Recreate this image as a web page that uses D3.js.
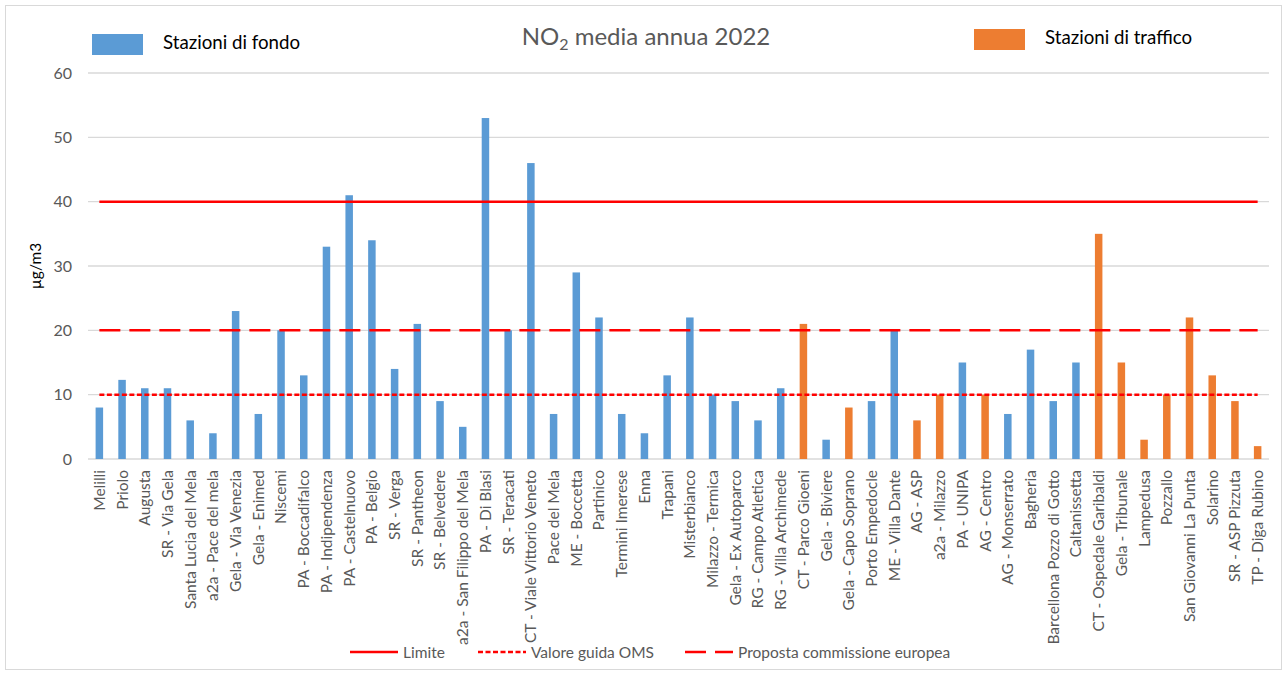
<!DOCTYPE html>
<meta charset="utf-8">
<style>
  body { margin: 0; background: #fff; }
  text { font-family: Lato, sans-serif; }
</style>
<body id="chart"></body>
<script src="https://cdn.jsdelivr.net/npm/d3@7"></script>
<script>
// stations, annual NO2 mean (µg/m3), station type
var stations = ["Melilli", "Priolo", "Augusta", "SR - Via Gela", "Santa Lucia del Mela",
  "a2a - Pace del mela", "Gela - Via Venezia", "Gela - Enimed", "Niscemi", "PA - Boccadifalco",
  "PA - Indipendenza", "PA - Castelnuovo", "PA - Belgio", "SR - Verga", "SR - Pantheon",
  "SR - Belvedere", "a2a - San Filippo del Mela", "PA - Di Blasi", "SR - Teracati",
  "CT - Viale Vittorio Veneto", "Pace del Mela", "ME - Boccetta", "Partinico", "Termini Imerese",
  "Enna", "Trapani", "Misterbianco", "Milazzo - Termica", "Gela - Ex Autoparco",
  "RG - Campo Atletica", "RG - Villa Archimede", "CT - Parco Gioeni", "Gela - Biviere",
  "Gela - Capo Soprano", "Porto Empedocle", "ME - Villa Dante", "AG - ASP", "a2a - Milazzo",
  "PA - UNIPA", "AG - Centro", "AG - Monserrato", "Bagheria", "Barcellona Pozzo di Gotto",
  "Caltanissetta", "CT - Ospedale Garibaldi", "Gela - Tribunale", "Lampedusa", "Pozzallo",
  "San Giovanni La Punta", "Solarino", "SR - ASP Pizzuta", "TP - Diga Rubino"];

var values = [8, 12.3, 11, 11, 6, 4, 23, 7, 20, 13,
  33, 41, 34, 14, 21, 9, 5, 53, 20, 46,
  7, 29, 22, 7, 4, 13, 22, 10, 9, 6,
  11, 21, 3, 8, 9, 20, 6, 10, 15, 10,
  7, 17, 9, 15, 35, 15, 3, 10, 22, 13,
  9, 2];

// F = stazione di fondo, T = stazione di traffico
var types = ["F","F","F","F","F","F","F","F","F","F",
  "F","F","F","F","F","F","F","F","F","F",
  "F","F","F","F","F","F","F","F","F","F",
  "F","T","F","T","F","F","T","T","F","T",
  "F","F","F","F","T","T","T","T","T","T",
  "T","T"];

var seriesNames = ["Stazioni di fondo", "Stazioni di traffico"];
var seriesColors = ["#5B9BD5", "#ED7D31"];

var thresholdNames = ["Limite", "Valore guida OMS", "Proposta commissione europea"];
var thresholdValues = [40, 10, 20];
var thresholdDash = [null, "5,2.5", "21,9"];

var yTicks = [0, 10, 20, 30, 40, 50, 60];

var width = 1287, height = 675;
var margin = {left: 88, right: 18, top: 73, bottom: 216};

var svg = d3.select("#chart").append("svg")
  .attr("width", width)
  .attr("height", height);

// chart border
svg.append("rect")
  .attr("x", 5.5).attr("y", 5.5)
  .attr("width", width - 11).attr("height", height - 11)
  .attr("fill", "#fff").attr("stroke", "#d9d9d9").attr("stroke-width", 1);

var x = d3.scaleBand()
  .domain(stations)
  .range([margin.left, width - margin.right]);

var y = d3.scaleLinear()
  .domain([0, 60])
  .range([height - margin.bottom, margin.top]);

//gridlines
svg.append("g")
  .selectAll("line")
  .data(yTicks)
  .enter().append("line")
  .attr("x1", margin.left)
  .attr("x2", width - margin.right)
  .attr("y1", function(d) { return y(d); })
  .attr("y2", function(d) { return y(d); })
  .attr("stroke", "#d9d9d9")
  .attr("stroke-width", 1.3);

//y axis labels
var yAxis = svg.append("g")
  .attr("transform", "translate(" + margin.left + ",0)")
  .call(d3.axisLeft(y).tickValues(yTicks).tickSize(0).tickPadding(16));
yAxis.select(".domain").remove();
yAxis.selectAll("text")
  .attr("fill", "#595959")
  .style("font-family", "Lato, sans-serif")
  .style("font-size", "16px");

svg.append("text")
  .attr("transform", "translate(41," + y(30) + ") rotate(-90)")
  .attr("text-anchor", "middle")
  .attr("fill", "#000")
  .style("font-size", "15.5px")
  .text("µg/m3");

//bars
var barW = 7.5;
svg.append("g")
  .selectAll("rect")
  .data(values)
  .enter().append("rect")
  .attr("x", function(d, i) { return x(stations[i]) + x.bandwidth() / 2 - barW / 2; })
  .attr("y", function(d) { return y(d); })
  .attr("width", barW)
  .attr("height", function(d) { return y(0) - y(d); })
  .attr("fill", function(d, i) { return types[i] == "F" ? seriesColors[0] : seriesColors[1]; });

//x axis labels
var xAxis = svg.append("g")
  .attr("transform", "translate(0," + y(0) + ")")
  .call(d3.axisBottom(x).tickSize(0).tickPadding(0));
xAxis.select(".domain").remove();
xAxis.selectAll("text")
  .attr("transform", "rotate(-90)")
  .attr("x", -11)
  .attr("y", 0)
  .attr("dy", "0.35em")
  .attr("text-anchor", "end")
  .attr("fill", "#595959")
  .style("font-family", "Lato, sans-serif")
  .style("font-size", "15.5px");

//threshold lines
var xFirst = x(stations[0]) + x.bandwidth() / 2;
var xLast = x(stations[stations.length - 1]) + x.bandwidth() / 2;
svg.append("g")
  .selectAll("line")
  .data(thresholdValues)
  .enter().append("line")
  .attr("x1", xFirst)
  .attr("x2", xLast)
  .attr("y1", function(d) { return y(d); })
  .attr("y2", function(d) { return y(d); })
  .attr("stroke", "#FF0000")
  .attr("stroke-width", 2.5)
  .attr("stroke-dasharray", function(d, i) { return thresholdDash[i]; });

//title
var title = svg.append("text")
  .attr("x", 646)
  .attr("y", 45)
  .attr("text-anchor", "middle")
  .attr("fill", "#595959")
  .style("font-size", "24px");
title.append("tspan").text("NO");
title.append("tspan").attr("dy", 5).style("font-size", "16px").text("2");
title.append("tspan").attr("dy", -5).text(" media annua 2022");

//series legend
var legendX = [92, 974], legendY = [34, 29];
seriesNames.forEach(function(name, i) {
  svg.append("rect")
    .attr("x", legendX[i]).attr("y", legendY[i])
    .attr("width", 51).attr("height", 21)
    .attr("fill", seriesColors[i]);
  svg.append("text")
    .attr("x", legendX[i] + 71).attr("y", legendY[i] + 15)
    .attr("fill", "#000")
    .style("font-size", "18.7px")
    .text(name);
});

//threshold legend
var tlX = [350, 478, 685];
thresholdNames.forEach(function(name, i) {
  svg.append("line")
    .attr("x1", tlX[i]).attr("x2", tlX[i] + 48)
    .attr("y1", 652).attr("y2", 652)
    .attr("stroke", "#FF0000").attr("stroke-width", 2.5)
    .attr("stroke-dasharray", thresholdDash[i]);
  svg.append("text")
    .attr("x", tlX[i] + 53).attr("y", 657.5)
    .attr("fill", "#595959")
    .style("font-size", "15.5px")
    .text(name);
});
</script>
